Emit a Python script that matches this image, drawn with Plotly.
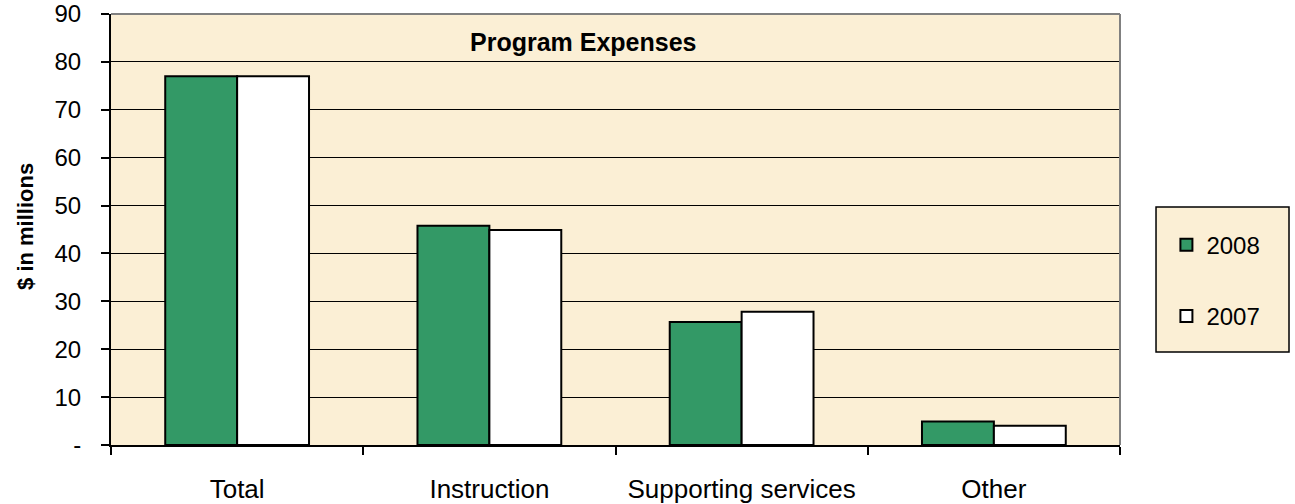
import plotly.graph_objects as go

categories = ["Total", "Instruction", "Supporting services", "Other"]
values_2008 = [77, 45.8, 25.7, 4.9]
values_2007 = [77, 44.9, 27.8, 4.0]
tick_vals = [0, 10, 20, 30, 40, 50, 60, 70, 80, 90]
tick_text = ["-", "10", "20", "30", "40", "50", "60", "70", "80", "90"]

FONT = "Liberation Sans, Arial, sans-serif"
BG = "#FBEFD5"

fig = go.Figure()
fig.add_trace(go.Bar(name="2008", x=categories, y=values_2008, legendgroup="a",
                     marker=dict(color="#339966", line=dict(color="black", width=2))))
fig.add_trace(go.Bar(name="2007", x=categories, y=values_2007, legendgroup="b",
                     marker=dict(color="white", line=dict(color="black", width=2))))

fig.update_layout(
    width=1295, height=504,
    margin=dict(l=111, r=175, t=14, b=59, autoexpand=False),
    paper_bgcolor="white",
    plot_bgcolor=BG,
    barmode="group",
    bargap=0.43,
    bargroupgap=0,
    font=dict(family=FONT, size=24, color="black"),
    showlegend=True,
    legend=dict(
        x=1.046, y=0.516, xanchor="left", yanchor="top",
        bgcolor="rgba(0,0,0,0)", borderwidth=0,
        font=dict(family=FONT, size=24),
        tracegroupgap=37, itemwidth=30,
    ),
    annotations=[
        dict(text="<b>Program Expenses</b>", x=0.468, y=0.935, xref="paper", yref="paper",
             xanchor="center", yanchor="middle",
             showarrow=False, font=dict(family=FONT, size=25, color="black")),
        dict(text="<b>$ in millions</b>", x=-0.0842, y=0.506, xref="paper", yref="paper",
             xanchor="center", yanchor="middle",
             textangle=-90, showarrow=False, font=dict(family=FONT, size=22, color="black")),
    ],
)

fig.update_xaxes(
    showline=True, linecolor="black", linewidth=2,
    ticks="outside", tickson="boundaries", ticklen=8, tickcolor="black", tickwidth=1.5,
    ticklabelstandoff=20, showgrid=False, automargin=False,
    tickfont=dict(size=26),
)
fig.update_yaxes(
    range=[0, 90], tickvals=tick_vals, ticktext=tick_text,
    showline=True, linecolor="black", linewidth=2,
    ticks="outside", ticklen=8, tickcolor="black", tickwidth=1.5,
    ticklabelstandoff=15,
    showgrid=True, gridcolor="black", gridwidth=1.3,
    zeroline=False, automargin=False,
)

# gray frame on top/right of plot area
fig.add_shape(type="line", xref="paper", yref="paper", x0=0, x1=1, y0=1, y1=1,
              line=dict(color="#808080", width=2))
fig.add_shape(type="line", xref="paper", yref="paper", x0=1, x1=1, y0=0, y1=1,
              line=dict(color="#808080", width=2))
# legend box
fig.add_shape(type="rect", xref="paper", yref="paper", x0=1.0357, x1=1.1675,
              y0=0.2158, y1=0.5522, fillcolor=BG, line=dict(color="black", width=1.5),
              layer="below")

fig.write_html("out.html", config={"displayModeBar": False},
               post_script="document.body.style.margin='0';")
